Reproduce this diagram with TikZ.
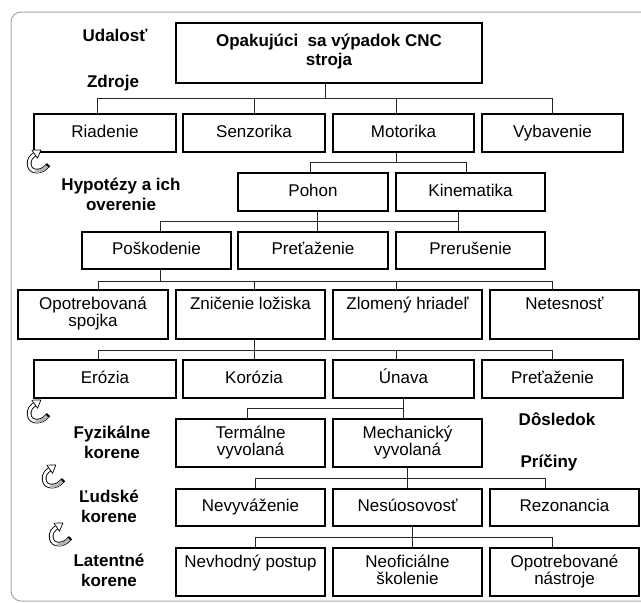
\documentclass[tikz,border=0pt]{standalone}
\usepackage{fontspec}
\setmainfont{Liberation Sans}
\newcommand\bst{\rule[-5pt]{0pt}{18pt}}
\begin{document}
\begin{tikzpicture}[x=1pt,y=-1pt,
  box/.style={draw=black, line width=1.3pt, inner sep=0pt, align=center, font=\fontsize{17}{17}\selectfont, execute at begin node=\bst},
  lbl/.style={font=\fontsize{17}{20}\selectfont\bfseries, align=center, inner sep=0pt},
  conn/.style={line width=0.9pt, draw=black!85},
  frame/.style={draw=black!35, line width=1pt, rounded corners=10pt},
  carrow/.pic={
    \draw[line width=4.6pt, line cap=rect] (9,3) .. controls (4,9) and (-6,9) .. (-7,2) .. controls (-8,-3) and (-5,-6) .. (-2,-8);
    \draw[line width=2.8pt, white] (9,3) .. controls (4,9) and (-6,9) .. (-7,2) .. controls (-8,-3) and (-5,-6) .. (-2,-8);
    \draw[line width=2.8pt, black!30] (9,3) .. controls (6.5,6) and (2.5,8) .. (-2,8.2);
    \filldraw[fill=white, draw=black, line width=0.7pt, line join=round] (0.5,-4.3) -- (3.5,-11.8) -- (-4.7,-11.7) -- cycle;
  }]
\useasboundingbox (0,0) rectangle (641,603);
\begin{scope}
  \clip (0,0) rectangle (641,603);
  \draw[frame] (11,12) rectangle (680,601);
\end{scope}

% labels
\node[lbl] (udal) at (115,35) {Udalosť};
\node[lbl] (zdro) at (113,83) {Zdroje};
\node[lbl] (hypo) at (121,194) {Hypotézy a ich\\overenie};
\node[lbl] (dosl) at (557,419) {Dôsledok};
\node[lbl] (pric) at (549,463) {Príčiny};
\node[lbl] (fyzi) at (112,442) {Fyzikálne\\korene};
\node[lbl] (luds) at (109,506) {Ľudské\\korene};
\node[lbl] (late) at (109,570) {Latentné\\korene};

% level 0
\node[box, font=\fontsize{17}{19}\selectfont\bfseries, minimum width=306pt, minimum height=60pt] (top) at (329,53) {Opakujúci\ \ sa výpadok CNC\\\strut stroja};

% level 1
\node[box, minimum width=142pt, minimum height=38pt] (riad) at (105,133) {Riadenie};
\node[box, minimum width=142pt, minimum height=38pt] (senz) at (254,133) {Senzorika};
\node[box, minimum width=141pt, minimum height=38pt] (moto) at (403.5,133) {Motorika};
\node[box, minimum width=141pt, minimum height=38pt] (vyba) at (552.5,133) {Vybavenie};

% level 2
\node[box, minimum width=150pt, minimum height=38pt] (pohon) at (313,192) {Pohon};
\node[box, minimum width=149pt, minimum height=38pt] (kine) at (470.5,192) {Kinematika};

% level 3
\node[box, minimum width=149pt, minimum height=37pt] (posk) at (156.5,250.5) {Poškodenie};
\node[box, minimum width=150pt, minimum height=37pt] (pret) at (313,250.5) {Preťaženie};
\node[box, minimum width=149pt, minimum height=37pt] (prer) at (470.5,250.5) {Prerušenie};

% level 4
\node[box, minimum width=150pt, minimum height=49pt] (opot) at (93,314.5) {Opotrebovaná\\\bst spojka};
\node[box, minimum width=149pt, minimum height=49pt] (znic) at (250.5,314.5) {Zničenie ložiska\\\bst};
\node[box, minimum width=149pt, minimum height=49pt] (zlom) at (407.5,314.5) {Zlomený hriadeľ\\\bst};
\node[box, minimum width=149pt, minimum height=49pt] (nete) at (564.5,314.5) {Netesnosť\\\bst};

% level 5
\node[box, minimum width=142pt, minimum height=38pt] (eroz) at (105,379) {Erózia};
\node[box, minimum width=142pt, minimum height=38pt] (koro) at (254,379) {Korózia};
\node[box, minimum width=141pt, minimum height=38pt] (unav) at (403.5,379) {Únava};
\node[box, minimum width=141pt, minimum height=38pt] (prez) at (552.5,379) {Preťaženie};

% level 6
\node[box, minimum width=149pt, minimum height=48pt] (term) at (250.5,443) {Termálne\\\bst vyvolaná};
\node[box, minimum width=149pt, minimum height=48pt] (mech) at (407.5,443) {Mechanický\\\bst vyvolaná};

% level 7
\node[box, minimum width=149pt, minimum height=37pt] (nevy) at (250.5,507.5) {Nevyváženie};
\node[box, minimum width=149pt, minimum height=37pt] (nesu) at (407.5,507.5) {Nesúosovosť};
\node[box, minimum width=149pt, minimum height=37pt] (rezo) at (564.5,507.5) {Rezonancia};

% level 8
\node[box, minimum width=149pt, minimum height=48pt] (nevh) at (250.5,572) {Nevhodný postup\\\bst};
\node[box, minimum width=149pt, minimum height=48pt] (neof) at (407.5,572) {Neoficiálne\\\bst školenie};
\node[box, minimum width=149pt, minimum height=48pt] (opnt) at (564.5,572) {Opotrebované\\\bst nástroje};

% connectors
% A
\coordinate (bA) at (0,98);
\draw[conn] ([xshift=-4pt]top.south) -- ([xshift=-4pt]top.south |- bA);
\draw[conn] ([xshift=-8pt]riad.north |- bA) -- ([xshift=-0.5pt]vyba.north |- bA);
\foreach \n/\s in {riad/-8,senz/0,moto/-7.5,vyba/-0.5}
  \draw[conn] ([xshift=\s pt]\n.north) -- ([xshift=\s pt]\n.north |- bA);
% B
\coordinate (bB) at (0,162);
\draw[conn] ([xshift=-7.5pt]moto.south) -- ([xshift=-7.5pt]moto.south |- bB);
\draw[conn] ([xshift=-3pt]pohon.north |- bB) -- ([xshift=-4.5pt]kine.north |- bB);
\foreach \n/\s in {pohon/-3,kine/-4.5}
  \draw[conn] ([xshift=\s pt]\n.north) -- ([xshift=\s pt]\n.north |- bB);
% C
\coordinate (bC) at (0,221);
\draw[conn] ([xshift=-12.5pt]kine.south) -- ([xshift=-12.5pt]prer.north);
\draw[conn] ([xshift=4pt]pohon.south) -- ([xshift=4pt]pret.north);
\draw[conn] ([xshift=3.5pt]posk.north |- bC) -- ([xshift=-12.5pt]prer.north |- bC);
\draw[conn] ([xshift=3.5pt]posk.north) -- ([xshift=3.5pt]posk.north |- bC);
% D
\coordinate (bD) at (0,281);
\draw[conn] ([xshift=3.5pt]posk.south) -- ([xshift=3.5pt]posk.south |- bD);
\draw[conn] ([xshift=5pt]opot.north |- bD) -- ([xshift=-12.5pt]nete.north |- bD);
\foreach \n/\s in {opot/5,znic/3.5,zlom/-11.5,nete/-12.5}
  \draw[conn] ([xshift=\s pt]\n.north) -- ([xshift=\s pt]\n.north |- bD);
% E
\coordinate (bE) at (0,350);
\draw[conn] ([xshift=3.5pt]znic.south) -- ([xshift=3.5pt]znic.south |- bE);
\draw[conn] ([xshift=-7pt]eroz.north |- bE) -- ([xshift=-0.5pt]prez.north |- bE);
\foreach \n/\s in {eroz/-7,koro/0,unav/-7.5,prez/-0.5}
  \draw[conn] ([xshift=\s pt]\n.north) -- ([xshift=\s pt]\n.north |- bE);
% F
\coordinate (bF) at (0,408);
\draw[conn] ([xshift=-0.5pt]unav.south) -- ([xshift=-4.5pt]mech.north);
\draw[conn] ([xshift=-3.5pt]term.north |- bF) -- ([xshift=-4.5pt]mech.north |- bF);
\draw[conn] ([xshift=-3.5pt]term.north) -- ([xshift=-3.5pt]term.north |- bF);
% G
\coordinate (bG) at (0,478);
\draw[conn] ([xshift=-0.5pt]mech.south) -- ([xshift=-0.5pt]nesu.north);
\draw[conn] ([xshift=4.5pt]nevy.north |- bG) -- ([xshift=-19.5pt]rezo.north |- bG);
\foreach \n/\s in {nevy/4.5,rezo/-19.5}
  \draw[conn] ([xshift=\s pt]\n.north) -- ([xshift=\s pt]\n.north |- bG);
% H
\coordinate (bH) at (0,537);
\draw[conn] ([xshift=4.5pt]nesu.south) -- ([xshift=4.5pt]neof.north);
\draw[conn] ([xshift=4.5pt]nevh.north |- bH) -- ([xshift=-12.5pt]opnt.north |- bH);
\foreach \n/\s in {nevh/4.5,opnt/-12.5}
  \draw[conn] ([xshift=\s pt]\n.north) -- ([xshift=\s pt]\n.north |- bH);

% curved arrows
\pic[scale=1.1] at (37,163) {carrow};
\pic[scale=1.1] at (37,413) {carrow};
\pic[scale=1.1] at (52,478) {carrow};
\pic[scale=1.1] at (59,536) {carrow};
\end{tikzpicture}
\end{document}
